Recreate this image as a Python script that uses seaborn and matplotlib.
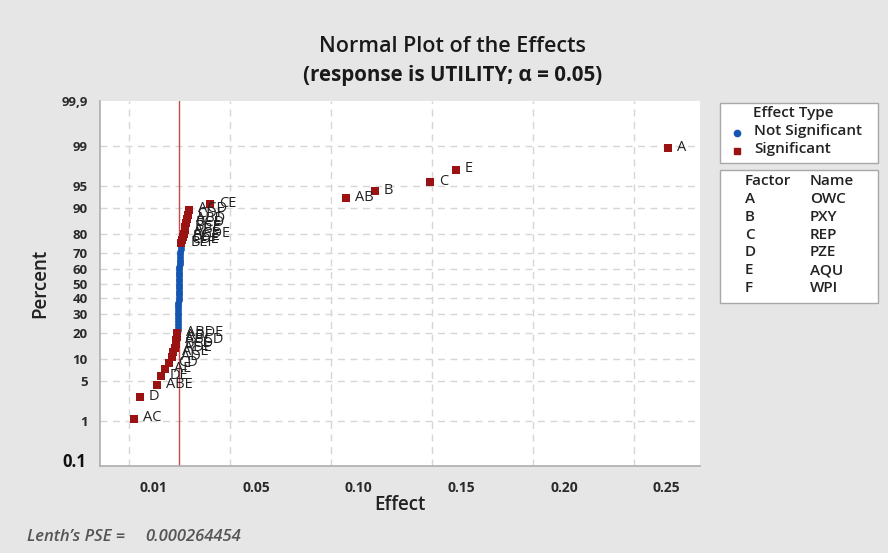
import matplotlib
matplotlib.use("Agg")
import matplotlib.pyplot as plt
import seaborn as sns
import pandas as pd
import numpy as np
from statistics import NormalDist
from matplotlib.patches import Rectangle

# ---------------- data (sorted effects, lowest first) ----------------
effects = [
    -0.0094, -0.0065, 0.0020, 0.0037, 0.0057, 0.0076, 0.0091, 0.0098, 0.0106, 0.0110,
    0.0113, 0.0115, 0.0118,
    # not significant cluster
    0.0120, 0.0120, 0.0121, 0.0121, 0.0121, 0.0122, 0.0122, 0.0122, 0.0123, 0.0123,
    0.0123, 0.0124, 0.0124, 0.0124, 0.0125, 0.0125, 0.0125, 0.0125, 0.0126, 0.0126,
    0.0126, 0.0127, 0.0127, 0.0127, 0.0128, 0.0128, 0.0129, 0.0129, 0.0130, 0.0131,
    0.0131, 0.0132, 0.0133, 0.0134,
    # significant upper
    0.0137, 0.0142, 0.0147, 0.0149, 0.0154, 0.0157, 0.0162, 0.0164, 0.0169, 0.0174,
    0.0276, 0.0938, 0.1079, 0.1347, 0.1473, 0.2505,
]
significant = [True] * 13 + [False] * 34 + [True] * 16
labels = (["AC", "D", "ABE", "DE", "AE", "CD", "AD", "ACE", "ADE", "BCD", "ABCD", "ABF", "ABDE"]
          + [""] * 34
          + ["BEF", "CDE", "BDE", "ACDE", "ABC", "BCE", "BCD", "ABD", "CDF", "ACD",
             "CE", "AB", "B", "C", "E", "A"])
ref_effect = 0.0125  # fitted reference line (effect at 50 %)

factors = ["A", "B", "C", "D", "E", "F"]
factor_names = ["OWC", "PXY", "REP", "PZE", "AQU", "WPI"]

y_percent_ticks = [0.1, 1, 5, 10, 20, 30, 40, 50, 60, 70, 80, 90, 95, 99, 99.9]
y_tick_labels = ["", "1", "5", "10", "20", "30", "40", "50", "60", "70", "80", "90", "95", "99", "99,9"]
x_ticks = [0.0, 0.05, 0.10, 0.15, 0.20, 0.25]
x_tick_labels = ["0.01", "0.05", "0.10", "0.15", "0.20", "0.25"]
x_grid = [-0.0118, 0.0373, 0.0865, 0.1356, 0.1848, 0.2339]

# ---------------- derived (normal scores via median ranks) ----------------
n = len(effects)
nd = NormalDist()
ranks = np.arange(1, n + 1)
zscores = [nd.inv_cdf((i - 0.3) / (n + 0.4)) for i in ranks]
df = pd.DataFrame({"effect": effects, "z": zscores,
                   "type": ["Significant" if s else "Not Significant" for s in significant],
                   "label": labels})

# ---------------- figure ----------------
sns.set_theme(style="white")
plt.rcParams["font.family"] = ["Open Sans", "DejaVu Sans"]
W, H = 888, 553
BG = "#e6e6e6"
fig = plt.figure(figsize=(W / 100, H / 100), dpi=100, facecolor=BG)
ax = fig.add_axes([100 / W, 1 - 466 / H, 600 / W, 365 / H])
ax.set_facecolor("white")

RED = "#9a1212"
BLUE = "#1556b0"
zmax = nd.inv_cdf(0.999)
ax.set_ylim(-zmax, zmax)
ax.set_xlim(-0.0259, 0.2662)

# grid
for t in x_grid:
    ax.axvline(t, color="#d6d6d6", lw=1, ls=(0, (5, 4)), zorder=0)
for p in y_percent_ticks[1:-1]:
    ax.axhline(nd.inv_cdf(p / 100), color="#d6d6d6", lw=1, ls=(0, (5, 4)), zorder=0)

ax.axvline(ref_effect, color="#c44a4a", lw=1.0, zorder=1)

ns = df[df["type"] == "Not Significant"]
sg = df[df["type"] == "Significant"]
sns.scatterplot(data=ns, x="effect", y="z", color=BLUE, marker="o", s=24,
                linewidth=0, ax=ax, legend=False, zorder=3)
sns.scatterplot(data=sg, x="effect", y="z", color=RED, marker="s", s=34,
                linewidth=0, ax=ax, legend=False, zorder=3)
for _, r in sg.iterrows():
    ax.annotate(r["label"], (r["effect"], r["z"]), xytext=(6.5, 0.5),
                textcoords="offset points", va="center", ha="left",
                fontsize=10.5, color="#222222", zorder=4)

ax.set_yticks([nd.inv_cdf(p / 100) for p in y_percent_ticks])
ax.set_yticklabels(y_tick_labels)
ax.set_xticks(x_ticks)
ax.set_xticklabels(x_tick_labels)
ax.tick_params(axis="y", length=5, color="#9a9a9a", width=1, pad=4,
               labelsize=9.5, labelcolor="#2a2a2a")
ax.tick_params(axis="x", length=0, pad=11, labelsize=10, labelcolor="#2a2a2a")
for lab in ax.get_yticklabels() + ax.get_xticklabels():
    lab.set_fontweight("bold")

for s in ["top", "right"]:
    ax.spines[s].set_visible(False)
ax.spines["left"].set_color("#b0b0b0")
ax.spines["bottom"].set_color("#b0b0b0")

ax.set_xlabel("Effect", fontsize=13.5, fontweight="semibold", color="#222222", labelpad=0)
ax.set_ylabel("Percent", fontsize=13.5, fontweight="semibold", color="#222222", labelpad=8)

def fx(px):
    return px / W
def fy(py):
    return 1 - py / H

# bottom percent label (larger, as in the reference)
fig.text(fx(86), fy(462), "0.1", ha="right", va="center", fontsize=12,
         fontweight="bold", color="#111111")

# titles
fig.text(0.51, 1 - 46 / H, "Normal Plot of the Effects", ha="center", va="center",
         fontsize=15.5, fontweight="semibold", color="#1a1a1a")
fig.text(0.51, 1 - 76 / H, "(response is UTILITY; α = 0.05)", ha="center", va="center",
         fontsize=14.8, fontweight="bold", color="#1a1a1a")

# legend boxes
fig.patches.append(Rectangle((fx(720), fy(163)), (878 - 720) / W, (163 - 103) / H,
                             transform=fig.transFigure, facecolor="white",
                             edgecolor="#a8a8a8", lw=1))
fig.patches.append(Rectangle((fx(720), fy(303)), (878 - 720) / W, (303 - 170) / H,
                             transform=fig.transFigure, facecolor="white",
                             edgecolor="#a8a8a8", lw=1))
fs = 11
fig.text(fx(753), fy(113), "Effect Type", fontsize=fs, fontweight="semibold", va="center", color="#222")
fig.text(fx(754), fy(131), "Not Significant", fontsize=fs, fontweight="semibold", va="center", color="#222")
fig.text(fx(754), fy(149), "Significant", fontsize=fs, fontweight="semibold", va="center", color="#222")
fig.lines.append(plt.Line2D([fx(737)], [fy(133)], marker="o", ms=4.5, color=BLUE,
                            transform=fig.transFigure, lw=0))
fig.lines.append(plt.Line2D([fx(737)], [fy(151)], marker="s", ms=5, color=RED,
                            transform=fig.transFigure, lw=0))

fig.text(fx(745), fy(181), "Factor", fontsize=fs, fontweight="semibold", va="center", color="#222")
fig.text(fx(810), fy(181), "Name", fontsize=fs, fontweight="semibold", va="center", color="#222")
for k, (f, nm) in enumerate(zip(factors, factor_names)):
    yy = 199 + k * 17.8
    fig.text(fx(745), fy(yy), f, fontsize=fs, fontweight="semibold", va="center", color="#222")
    fig.text(fx(810), fy(yy), nm, fontsize=fs, fontweight="semibold", va="center", color="#222")

fig.text(fx(27), fy(537), "Lenth’s PSE =", fontsize=12, style="italic", fontweight="semibold",
         va="center", color="#555555")
fig.text(fx(145), fy(537), "0.000264454", fontsize=12, style="italic", fontweight="semibold",
         va="center", color="#555555")

fig.savefig("out.png", dpi=100, facecolor=BG)
